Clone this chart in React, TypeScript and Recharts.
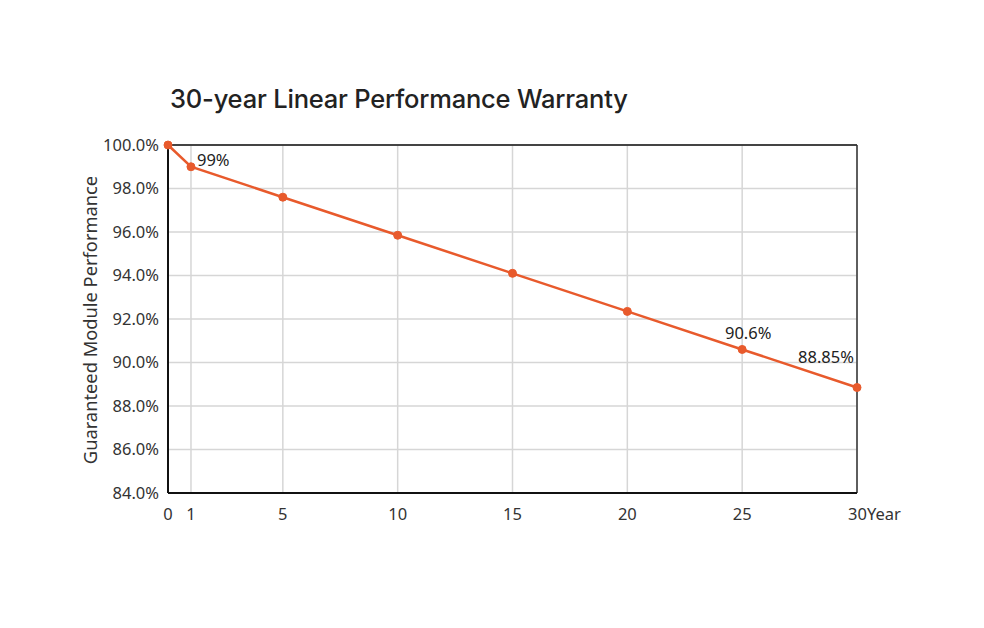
import React from "react";
import { LineChart, Line, XAxis, YAxis, CartesianGrid, ReferenceLine, LabelList, Label } from "recharts";

// years on the x axis and the guaranteed output at each of them
const years = [0, 1, 5, 10, 15, 20, 25, 30];
const performance = [100, 99, 97.6, 95.85, 94.1, 92.35, 90.6, 88.85];
const pointLabels = ["", "99%", "", "", "", "", "90.6%", "88.85%"];

const xTicks = [0, 1, 5, 10, 15, 20, 25, 30];
const yTicks = [84, 86, 88, 90, 92, 94, 96, 98, 100];

const data = years.map((y, i) => ({ year: y, value: performance[i], label: pointLabels[i] }));

const ORANGE = "#e85a2c";
const FONT = "'Noto Sans', sans-serif";

const XTick = (props: any) => {
    const { x, y, payload } = props;
    const last = payload.value === 30;
    return (
        <text
            x={last ? x - 9 : x}
            y={y + 19}
            textAnchor={last ? "start" : "middle"}
            fill="#333"
            fontSize={16.5}
            fontFamily={FONT}
        >
            {last ? "30Year" : payload.value}
        </text>
    );
};

const PointLabel = (props: any) => {
    const { x, y, value } = props;
    if (!value) return null;
    // small nudges so the labels sit where the original has them
    let dx = 0, dy = -10, anchor: any = "middle";
    if (value === "99%") { dx = 6; dy = -1; anchor = "start"; }
    if (value === "90.6%") { dx = 6; dy = -10; }
    if (value === "88.85%") { dx = -31; dy = -25; }
    return (
        <text x={x + dx} y={y + dy} textAnchor={anchor} fill="#222" fontSize={16.5} fontFamily={FONT}>
            {value}
        </text>
    );
};

export default function App() {
    return (
        <div style={{ position: "absolute", left: 0, top: 0, width: 984, height: 628, background: "#fff" }}>
            <div style={{
                position: "absolute", left: 170, top: 83, fontFamily: "Inter, sans-serif",
                fontWeight: 500, fontSize: 25.5, color: "#222", letterSpacing: -0.2
            }}>
                30-year Linear Performance Warranty
            </div>
            <LineChart width={984} height={628} data={data} margin={{ top: 145, right: 127, bottom: 105, left: 88 }}>
                <CartesianGrid stroke="#d6d6d6" strokeWidth={1.5} />
                <XAxis
                    dataKey="year"
                    type="number"
                    domain={[0, 30]}
                    ticks={xTicks}
                    tick={<XTick />}
                    tickLine={false}
                    axisLine={{ stroke: "#111", strokeWidth: 2 }}
                    interval={0}
                    height={30}
                />
                <YAxis
                    type="number"
                    domain={[84, 100]}
                    ticks={yTicks}
                    width={80}
                    tickLine={false}
                    axisLine={{ stroke: "#111", strokeWidth: 2 }}
                    tick={{ fill: "#333", fontSize: 16.5, fontFamily: FONT }}
                    tickFormatter={(v) => v.toFixed(1) + "%"}
                    tickMargin={3}
                >
                    <Label
                        content={() => (
                            <text x={97} y={320} transform="rotate(-90 97 320)" textAnchor="middle"
                                fill="#333" fontSize={18.3} fontFamily={FONT}>
                                Guaranteed Module Performance
                            </text>
                        )}
                    />
                </YAxis>
                <ReferenceLine y={100} stroke="#111" strokeWidth={1.5} />
                <ReferenceLine x={30} stroke="#333" strokeWidth={1.5} />
                <Line
                    type="linear"
                    dataKey="value"
                    stroke={ORANGE}
                    strokeWidth={2.5}
                    dot={{ r: 4, fill: ORANGE, stroke: ORANGE, strokeWidth: 1 }}
                    isAnimationActive={false}
                >
                    <LabelList dataKey="label" content={<PointLabel />} />
                </Line>
            </LineChart>
        </div>
    );
}
